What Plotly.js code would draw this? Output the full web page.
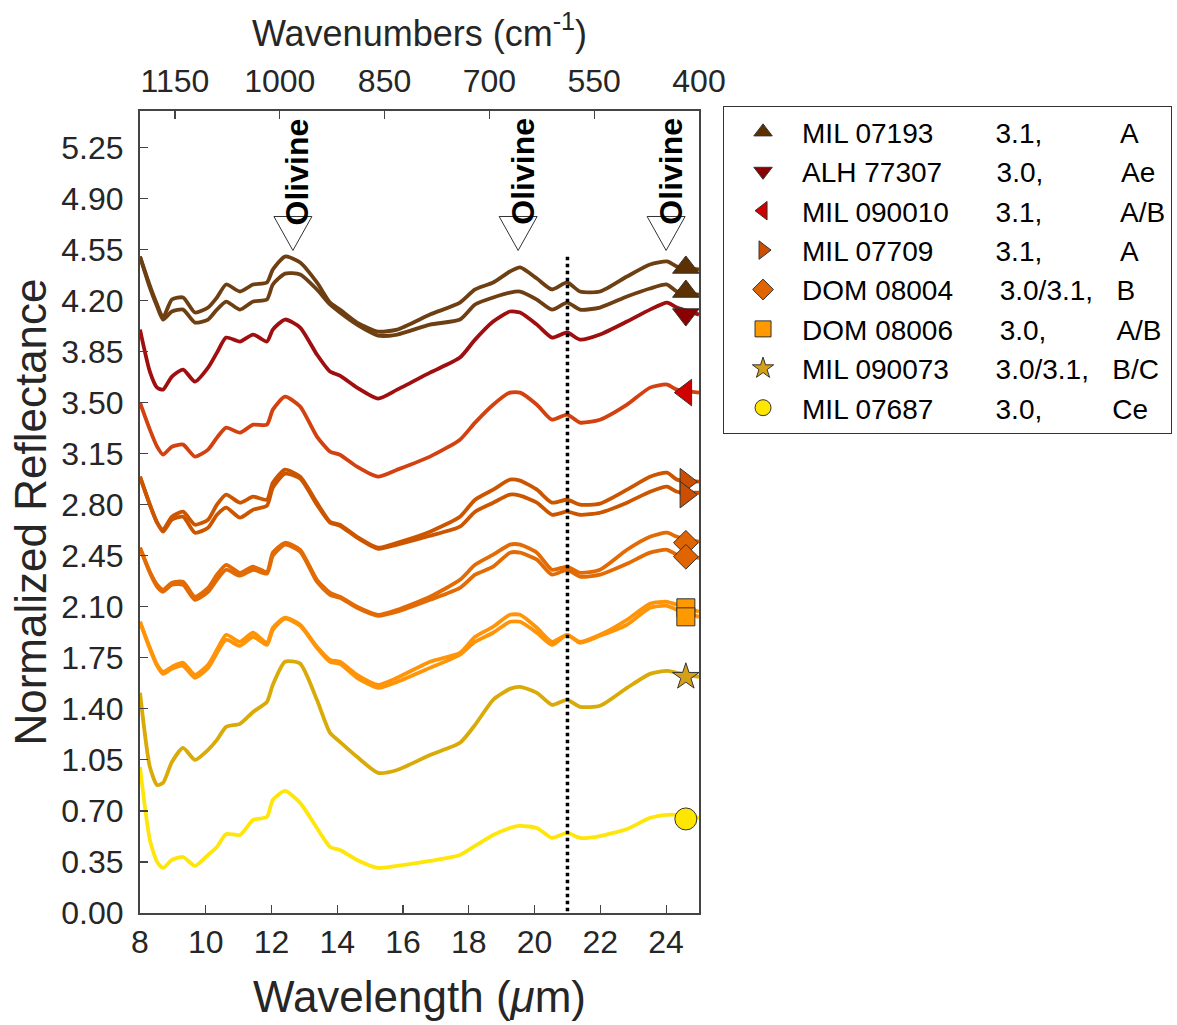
<!DOCTYPE html>
<html>
<head>
<meta charset="utf-8">
<script src="https://cdn.plot.ly/plotly-3.0.1.min.js"></script>
<style>html,body{margin:0;padding:0;background:#fff;}#chart{width:1177px;height:1025px;}</style>
</head>
<body>
<div id="chart"></div>
<script>
// Wavelength grid (micrometres)
const wavelength = [8.00, 8.30, 8.52, 8.70, 8.97, 9.31, 9.67, 10.07, 10.34, 10.62, 11.04, 11.44, 11.86, 12.04, 12.41, 12.87, 13.38, 13.78, 14.08, 14.60, 15.24, 15.82, 16.82, 17.73, 18.19, 18.74, 19.25, 19.56, 20.07, 20.53, 20.99, 21.38, 21.99, 22.81, 23.51, 24.03, 24.33, 25.00];

// Normalized (offset) reflectance spectra
const mil07193a = [4.502,4.303,4.173,4.083,4.207,4.221,4.118,4.152,4.221,4.310,4.262,4.310,4.324,4.413,4.502,4.461,4.324,4.186,4.138,4.049,3.987,4.001,4.104,4.186,4.276,4.324,4.399,4.427,4.351,4.276,4.324,4.262,4.262,4.365,4.447,4.468,4.434,4.413];
const mil07193b = [4.502,4.289,4.159,4.070,4.125,4.138,4.049,4.070,4.138,4.193,4.138,4.193,4.207,4.310,4.385,4.379,4.276,4.173,4.118,4.035,3.960,3.967,4.035,4.070,4.173,4.221,4.255,4.262,4.207,4.138,4.186,4.138,4.152,4.228,4.283,4.310,4.262,4.241];
const alh77307 = [4.001,3.713,3.603,3.589,3.679,3.727,3.644,3.740,3.843,3.946,3.919,3.967,3.919,4.001,4.070,4.015,3.830,3.713,3.685,3.603,3.528,3.589,3.706,3.809,3.932,4.056,4.125,4.118,4.035,3.946,3.981,3.932,3.967,4.056,4.138,4.186,4.152,4.104];
const mil090010 = [3.500,3.315,3.198,3.143,3.198,3.212,3.130,3.178,3.260,3.329,3.294,3.349,3.349,3.452,3.541,3.473,3.267,3.164,3.143,3.061,2.992,3.040,3.130,3.246,3.363,3.486,3.569,3.569,3.486,3.383,3.418,3.363,3.383,3.486,3.603,3.624,3.589,3.569];
const mil07709a = [2.992,2.800,2.677,2.629,2.718,2.752,2.663,2.697,2.800,2.869,2.814,2.855,2.834,2.951,3.040,2.992,2.814,2.683,2.663,2.580,2.505,2.539,2.615,2.718,2.834,2.903,2.972,2.965,2.903,2.814,2.834,2.800,2.807,2.903,2.992,3.020,2.972,2.958];
const mil07709b = [2.992,2.800,2.677,2.615,2.697,2.718,2.608,2.642,2.731,2.780,2.711,2.766,2.793,2.917,3.013,2.979,2.800,2.677,2.656,2.574,2.498,2.526,2.587,2.649,2.752,2.814,2.869,2.862,2.814,2.731,2.752,2.731,2.745,2.814,2.889,2.924,2.889,2.882];
const dom08004a = [2.505,2.340,2.251,2.217,2.265,2.272,2.169,2.230,2.320,2.388,2.333,2.375,2.340,2.471,2.539,2.491,2.285,2.196,2.169,2.100,2.045,2.079,2.169,2.285,2.388,2.457,2.526,2.526,2.471,2.354,2.375,2.333,2.354,2.491,2.580,2.608,2.580,2.546];
const dom08004b = [2.505,2.333,2.237,2.203,2.251,2.251,2.148,2.203,2.285,2.354,2.313,2.354,2.327,2.450,2.526,2.478,2.272,2.182,2.162,2.093,2.038,2.066,2.148,2.230,2.320,2.375,2.471,2.471,2.423,2.320,2.354,2.306,2.320,2.395,2.471,2.491,2.457,2.436];
const dom08006a = [1.997,1.819,1.702,1.654,1.688,1.716,1.633,1.702,1.805,1.908,1.860,1.922,1.853,1.956,2.025,1.977,1.826,1.736,1.723,1.633,1.565,1.613,1.723,1.784,1.894,1.963,2.045,2.045,1.956,1.860,1.908,1.860,1.908,2.011,2.121,2.134,2.114,2.066];
const dom08006b = [1.997,1.812,1.695,1.640,1.675,1.695,1.613,1.681,1.784,1.874,1.832,1.894,1.839,1.942,2.018,1.970,1.819,1.723,1.709,1.613,1.544,1.585,1.681,1.771,1.860,1.922,1.997,1.997,1.922,1.839,1.908,1.853,1.901,1.977,2.093,2.107,2.079,2.031];
const mil090073 = [1.510,1.002,0.878,0.892,1.036,1.132,1.050,1.119,1.187,1.277,1.297,1.379,1.448,1.565,1.723,1.710,1.462,1.235,1.174,1.071,0.961,0.981,1.084,1.167,1.290,1.462,1.537,1.551,1.510,1.427,1.462,1.414,1.421,1.544,1.640,1.661,1.647,1.620];
const mil07687 = [1.002,0.501,0.350,0.309,0.364,0.384,0.323,0.398,0.453,0.542,0.535,0.638,0.659,0.776,0.837,0.755,0.583,0.453,0.432,0.364,0.309,0.323,0.357,0.398,0.460,0.535,0.583,0.597,0.583,0.515,0.549,0.515,0.528,0.576,0.652,0.673,0.673,0.652];

// Samples (legend)
const sampleNames = ['MIL 07193', 'ALH 77307', 'MIL 090010', 'MIL 07709', 'DOM 08004', 'DOM 08006', 'MIL 090073', 'MIL 07687'];
const petrologicTypes = ['3.1,', '3.0,', '3.1,', '3.1,', '3.0/3.1,', '3.0,', '3.0/3.1,', '3.0,'];
const alterationClasses = ['A', 'Ae', 'A/B', 'A', 'B', 'A/B', 'B/C', 'Ce'];
const gapAfterName = [8, 7, 6, 8, 6, 6, 6, 8];
const gapAfterType = [10, 10, 10, 10, 3, 9, 3, 9];

// Spectra belonging to each sample
const spectra = [mil07193a, mil07193b, alh77307, mil090010, mil07709a, mil07709b, dom08004a, dom08004b, dom08006a, dom08006b, mil090073, mil07687];
const spectrumSample = [0, 0, 1, 2, 3, 3, 4, 4, 5, 5, 6, 7];

// End-of-spectrum symbols
const symbolWavelength = 24.6;
const symbolValues = [[4.427, 4.262], [4.104], [3.569], [2.958, 2.869], [2.539, 2.443], [2.093, 2.031], [1.620], [0.645]];

// Reference line and olivine features
const cutoffWavelength = 21;
const cutoffTop = 4.50;
const olivineWavelengths = [12.65, 19.5, 24.0];
const olivineArrowLevel = 4.66;
const olivineLabelLevel = 5.085;

// Top axis ticks (wavenumbers, cm^-1)
const wavenumberRange = [1200, 400];
const wavenumberTicks = [1150, 1000, 850, 700, 550, 400];

// Styles
const lineColors = ['#6E3F12', '#A00F0F', '#D2410F', '#CC5500', '#E26B05', '#FF9408', '#D9AA08', '#FFE60A'];
const markerColors = ['#5C3000', '#8B0000', '#D00000', '#CC4E00', '#E06400', '#FF9900', '#D4A017', '#FFE600'];
const markerSymbols = ['triangle-up', 'triangle-down', 'triangle-left', 'triangle-right', 'diamond', 'square', 'star', 'circle'];
const markerSizes = [23, 23, 23, 23, 19, 18, 20, 22];

const nb = n => '\u00A0'.repeat(n);
const FONT = 'Liberation Sans, Arial, Helvetica, sans-serif';

const traces = [];
spectra.forEach((s, i) => {
  traces.push({
    x: wavelength, y: s, type: 'scatter', mode: 'lines',
    line: {color: lineColors[spectrumSample[i]], width: 3.8, shape: 'spline', smoothing: 0.6},
    showlegend: false, hoverinfo: 'skip'
  });
});
traces.push({
  x: [cutoffWavelength, cutoffWavelength], y: [cutoffTop, 0], type: 'scatter', mode: 'lines',
  line: {color: '#000', width: 3.5, dash: 'dot'}, showlegend: false, hoverinfo: 'skip'
});
// carrier for the top (wavenumber) axis; draws nothing
traces.push({
  x: wavenumberRange, y: [null, null], xaxis: 'x2', yaxis: 'y', type: 'scatter', mode: 'lines',
  showlegend: false, hoverinfo: 'skip'
});
sampleNames.forEach((nm, i) => {
  traces.push({
    x: symbolValues[i].map(() => symbolWavelength), y: symbolValues[i],
    type: 'scatter', mode: 'markers',
    name: nm + nb(gapAfterName[i]) + petrologicTypes[i] + nb(gapAfterType[i]) + alterationClasses[i],
    marker: {symbol: markerSymbols[i], size: markerSizes[i], color: markerColors[i], line: {color: '#333', width: 1}},
    cliponaxis: false
  });
});

const axisCommon = {
  showgrid: false, zeroline: false, showline: true, linecolor: '#444', linewidth: 2,
  ticks: 'inside', ticklen: 8, tickwidth: 1.2, tickcolor: '#444',
  tickfont: {size: 32, color: '#262626', family: FONT}
};

const layout = {
  width: 1177, height: 1025, autosize: false,
  margin: {l: 140, r: 478, t: 111, b: 112, pad: 0, autoexpand: false},
  paper_bgcolor: '#fff', plot_bgcolor: '#fff',
  font: {family: FONT, color: '#262626'},
  showlegend: true,
  legend: {
    x: 1.043, y: 1.006, xanchor: 'left', yanchor: 'top',
    bordercolor: '#333', borderwidth: 1, bgcolor: '#fff',
    font: {size: 28, color: '#000', family: FONT}, itemwidth: 68, tracegroupgap: 0
  },
  xaxis: Object.assign({}, axisCommon, {
    range: [8, 25], tick0: 0, dtick: 2, mirror: false,
    ticklabelstandoff: 0,
    title: {text: 'Wavelength (<i>μ</i>m)', font: {size: 44, color: '#262626', family: FONT}, standoff: 22}
  }),
  xaxis2: Object.assign({}, axisCommon, {
    overlaying: 'x', side: 'top', anchor: 'y',
    range: wavenumberRange, tickmode: 'array', tickvals: wavenumberTicks, ticktext: wavenumberTicks.map(String),
    ticklabelstandoff: 4,
    title: {text: 'Wavenumbers (cm<sup>-1</sup>)', font: {size: 36, color: '#262626', family: FONT}, standoff: 6}
  }),
  yaxis: Object.assign({}, axisCommon, {
    range: [0, 5.5], tick0: 0, dtick: 0.35, tickformat: '.2f', mirror: true,
    ticklabelstandoff: 8,
    title: {text: 'Normalized Reflectance', font: {size: 44, color: '#262626', family: FONT}, standoff: 1}
  }),
  shapes: olivineWavelengths.map(w => ({
    type: 'path', xref: 'x', yref: 'y', xsizemode: 'pixel', ysizemode: 'pixel',
    xanchor: w, yanchor: olivineArrowLevel,
    path: 'M-19,17 L19,17 L0,-17 Z',
    fillcolor: '#fff', line: {color: '#333', width: 1}
  })),
  annotations: olivineWavelengths.map(w => ({
    x: w, y: olivineLabelLevel, xref: 'x', yref: 'y', showarrow: false,
    text: '<b>Olivine</b>', textangle: -90, xanchor: 'center', yanchor: 'middle', xshift: 4,
    font: {size: 32, color: '#000', family: FONT}
  }))
};

Plotly.newPlot('chart', traces, layout, {staticPlot: true, displayModeBar: false});
</script>
</body>
</html>
